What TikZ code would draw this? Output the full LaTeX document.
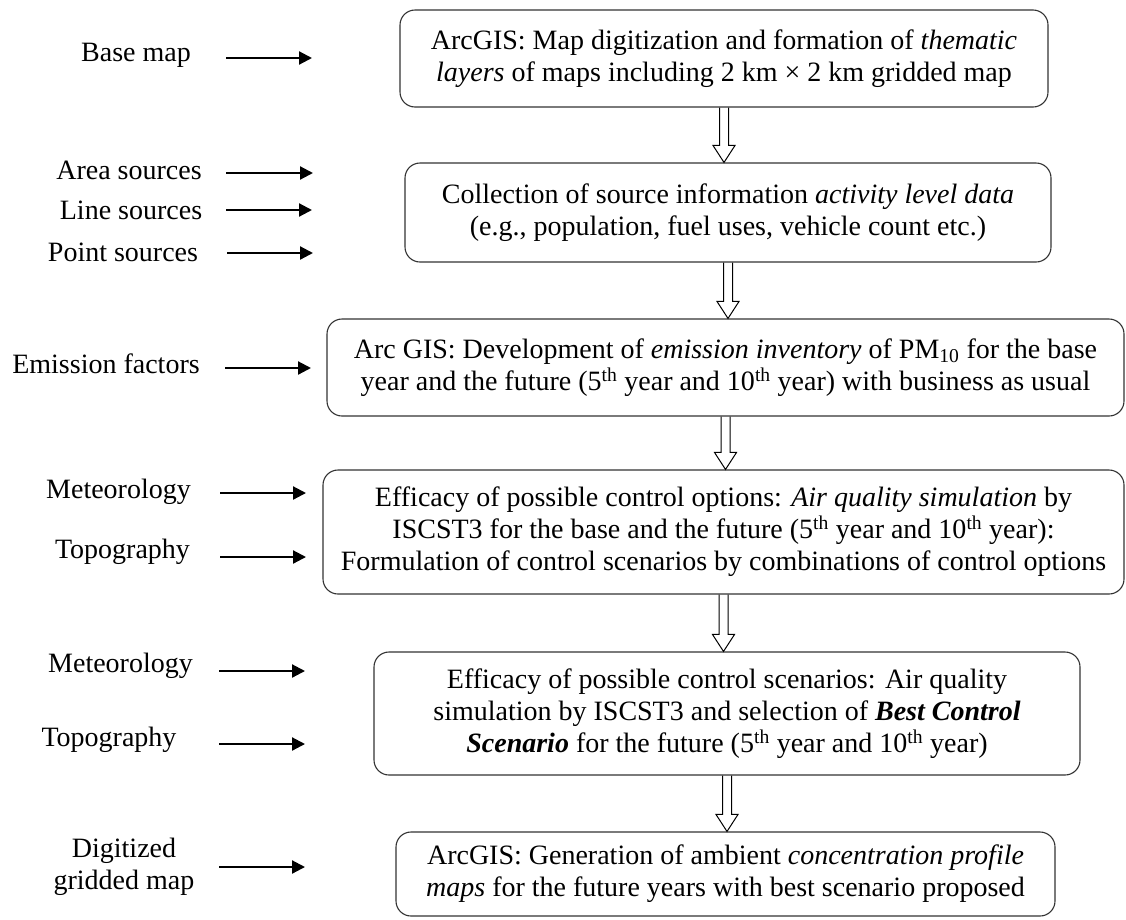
\documentclass[tikz,border=0pt]{standalone}
\usepackage{fontspec}
\setmainfont{Liberation Serif}
\usetikzlibrary{arrows.meta,calc}

\begin{document}
\begin{tikzpicture}[x=1pt,y=-1pt,
    stage/.style={draw=black!80,line width=1.1pt,rounded corners=15pt,align=center,
      inner sep=0pt,font=\fontsize{28}{32}\selectfont},
    source/.style={align=center,inner sep=0pt,font=\fontsize{28}{32}\selectfont},
    feed/.style={line width=2.2pt,-{Triangle[length=13pt,width=13pt]}},
    flow/.style={draw,line width=1pt}]
    \useasboundingbox (0,0) rectangle (1126,919);

    % processing stages
    \node[stage,minimum width=648pt,minimum height=97pt] (MapBox) at (724,58.5)
      {ArcGIS: Map digitization and formation of \textit{thematic}\\
       \textit{layers} of maps including 2 km × 2 km gridded map};
    \node[stage,minimum width=646pt,minimum height=99pt] (SrcBox) at (728,212.5)
      {Collection of source information \textit{activity level data}\\
       (e.g., population, fuel uses, vehicle count etc.)};
    \node[stage,minimum width=797pt,minimum height=97pt] (EmisBox) at (725.5,367.5)
      {Arc GIS: Development of \textit{emission inventory} of PM\textsubscript{10} for the base\\
       year and the future (5\textsuperscript{th} year and 10\textsuperscript{th} year) with business as usual};
    \node[stage,minimum width=801pt,minimum height=124pt] (OptBox) at (723.5,532)
      {Efficacy of possible control options: \textit{Air quality simulation} by\\
       ISCST3 for the base and the future (5\textsuperscript{th} year and 10\textsuperscript{th} year):\\
       Formulation of control scenarios by combinations of control options};
    \node[stage,minimum width=706pt,minimum height=123pt] (ScenBox) at (727,713.5)
      {Efficacy of possible control scenarios: Air quality\\
       simulation by ISCST3 and selection of \textbf{\textit{Best Control}}\\
       \textbf{\textit{Scenario}} for the future (5\textsuperscript{th} year and 10\textsuperscript{th} year)};
    \node[stage,minimum width=659pt,minimum height=84pt] (ProfBox) at (725.5,874)
      {ArcGIS: Generation of ambient \textit{concentration profile}\\
       \textit{maps} for the future years with best scenario proposed};

    % hollow arrows between stages
    \foreach \a/\b in {MapBox/SrcBox,SrcBox/EmisBox,EmisBox/OptBox,OptBox/ScenBox,ScenBox/ProfBox}
      \draw[flow] ($(\a.south)+(-4.5,0)$) -- ($(\b.north -| \a.south)+(-4.5,-17)$) -- ++(-6.5,0)
        -- (\b.north -| \a.south) -- ++(11,-17) -- ++(-6.5,0) -- ($(\a.south)+(4.5,0)$);

    % inputs
    \node[source] (lBase)  at (136,55)    {Base map};
    \node[source] (lArea)  at (129,170)   {Area sources};
    \node[source] (lLine)  at (131,210.5) {Line sources};
    \node[source] (lPoint) at (123,252.5) {Point sources};
    \node[source] (lEmis)  at (106,364)   {Emission factors};
    \node[source] (lMet)   at (118.5,492) {Meteorology};
    \node[source] (lTopo)  at (122.5,552) {Topography};
    \node[source] (lMetB)  at (120.5,666) {Meteorology};
    \node[source] (lTopoB) at (109,740)   {Topography};
    \node[source] (lGrid)  at (124,867)   {Digitized\\gridded map};

    \coordinate (InBase)  at (226,58);    \coordinate (OutBase)  at (312,58);
    \coordinate (InArea)  at (226,173);   \coordinate (OutArea)  at (313,173);
    \coordinate (InLine)  at (226,210);   \coordinate (OutLine)  at (312,210);
    \coordinate (InPoint) at (227,253);   \coordinate (OutPoint) at (313,253);
    \coordinate (InEmis)  at (225,368);   \coordinate (OutEmis)  at (311,368);
    \coordinate (InMet)   at (220,493);   \coordinate (OutMet)   at (306,493);
    \coordinate (InTopo)  at (220,557);   \coordinate (OutTopo)  at (306,557);
    \coordinate (InMetB)  at (219,671);   \coordinate (OutMetB)  at (305,671);
    \coordinate (InTopoB) at (219,744);   \coordinate (OutTopoB) at (305,744);
    \coordinate (InGrid)  at (219,867);   \coordinate (OutGrid)  at (305,867);

    \draw[feed] (InBase)  -- (OutBase);
    \draw[feed] (InArea)  -- (OutArea);
    \draw[feed] (InLine)  -- (OutLine);
    \draw[feed] (InPoint) -- (OutPoint);
    \draw[feed] (InEmis)  -- (OutEmis);
    \draw[feed] (InMet)   -- (OutMet);
    \draw[feed] (InTopo)  -- (OutTopo);
    \draw[feed] (InMetB)  -- (OutMetB);
    \draw[feed] (InTopoB) -- (OutTopoB);
    \draw[feed] (InGrid)  -- (OutGrid);
\end{tikzpicture}
\end{document}
